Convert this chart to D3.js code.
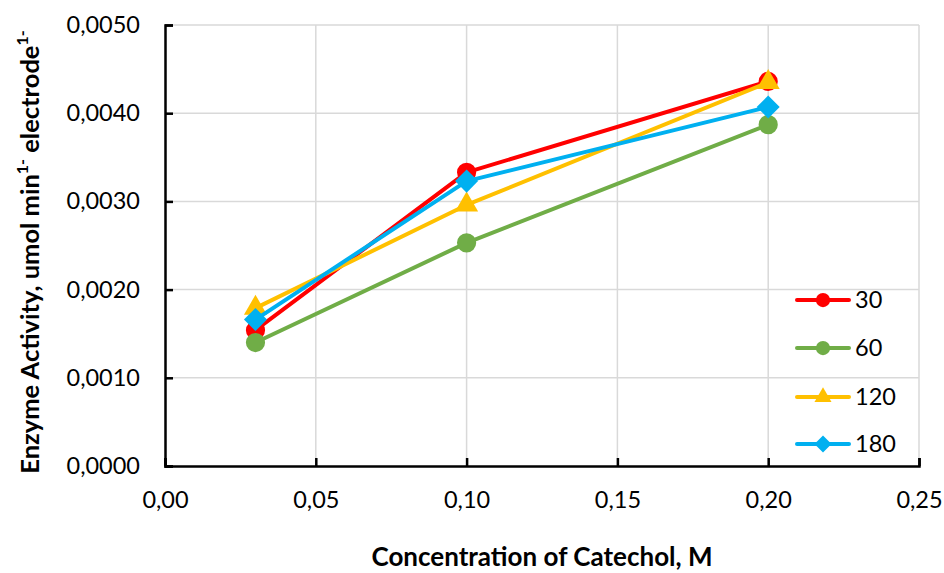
<!DOCTYPE html>
<html><head><meta charset="utf-8">
<script src="https://cdn.jsdelivr.net/npm/d3@7"></script>
<style>body{margin:0;background:#fff}svg{display:block}text{font-family:Lato,"Open Sans",sans-serif}</style>
</head><body>
<script>
const concentrations = [0.03, 0.10, 0.20];
const seriesNames = ["30", "60", "120", "180"];
const values30 = [0.00154, 0.00333, 0.00436];
const values60 = [0.00140, 0.00253, 0.00387];
const values120 = [0.00179, 0.00296, 0.00435];
const values180 = [0.00166, 0.00323, 0.00407];
const seriesColors = ["#FF0000", "#70AD47", "#FFC000", "#00B0F0"];
const seriesSymbols = ["circle", "circle", "triangle", "diamond"];
const xTicks = [0, 0.05, 0.10, 0.15, 0.20, 0.25];
const yTicks = [0, 0.001, 0.002, 0.003, 0.004, 0.005];

const W = 944, H = 573;
const svg = d3.select("body").append("svg").attr("width", W).attr("height", H);
const x = d3.scaleLinear().domain([0, 0.25]).range([165, 919]);
const y = d3.scaleLinear().domain([0, 0.005]).range([466, 25]);
const fmtX = v => d3.format(".2f")(v).replace(".", ",");
const fmtY = v => d3.format(".4f")(v).replace(".", ",");

// gridlines
svg.append("g").selectAll("line.v").data(xTicks.slice(1)).join("line")
  .attr("x1", d => x(d)).attr("x2", d => x(d)).attr("y1", y(0)).attr("y2", y(0.005))
  .attr("stroke", "#d9d9d9").attr("stroke-width", 1.5);
svg.append("g").selectAll("line.h").data(yTicks.slice(1)).join("line")
  .attr("x1", x(0)).attr("x2", x(0.25)).attr("y1", d => y(d)).attr("y2", d => y(d))
  .attr("stroke", "#d9d9d9").attr("stroke-width", 1.5);

// axes
const xAxis = svg.append("g").attr("transform", `translate(0,${y(0)})`)
  .call(d3.axisBottom(x).tickValues(xTicks).tickFormat(fmtX).tickSizeInner(-8).tickSizeOuter(-8).tickPadding(25));
const yAxis = svg.append("g").attr("transform", `translate(${x(0)},0)`)
  .call(d3.axisLeft(y).tickValues(yTicks).tickFormat(fmtY).tickSizeInner(-8).tickSizeOuter(-8).tickPadding(25));
[xAxis, yAxis].forEach(a => {
  a.select(".domain").attr("stroke", "#000").attr("stroke-width", 2.5);
  a.selectAll(".tick line").attr("stroke", "#000").attr("stroke-width", 2.5);
  a.selectAll(".tick text").attr("font-size", 23.5).attr("fill", "#000").attr("font-family", "Lato");
});

// custom square diamond symbol
const squareDiamond = {
  draw(context, size) {
    const h = Math.sqrt(size * 2) / 2;
    context.moveTo(0, -h); context.lineTo(h, 0); context.lineTo(0, h); context.lineTo(-h, 0); context.closePath();
  }
};

// series
const allValues = [values30, values60, values120, values180];
const symType = { circle: d3.symbolCircle, triangle: d3.symbolTriangle, diamond: squareDiamond };
const symSize = { circle: 290, triangle: 230, diamond: 265 };
const line = d3.line().x(d => x(d[0])).y(d => y(d[1]));
allValues.forEach((vals, i) => {
  const pts = concentrations.map((c, j) => [c, vals[j]]);
  const g = svg.append("g");
  g.append("path").attr("d", line(pts)).attr("fill", "none")
    .attr("stroke", seriesColors[i]).attr("stroke-width", 4).attr("stroke-linejoin", "round");
  g.selectAll("path.m").data(pts).join("path")
    .attr("transform", d => `translate(${x(d[0])},${y(d[1])})`)
    .attr("d", d3.symbol().type(symType[seriesSymbols[i]]).size(symSize[seriesSymbols[i]]))
    .attr("fill", seriesColors[i]);
});

// legend
const legY = [300, 348, 397, 444];
seriesNames.forEach((name, i) => {
  const g = svg.append("g").attr("transform", `translate(0,${legY[i]})`);
  g.append("line").attr("x1", 797).attr("x2", 849).attr("y1", 0).attr("y2", 0)
    .attr("stroke", seriesColors[i]).attr("stroke-width", 4).attr("stroke-linecap", "round");
  g.append("path").attr("transform", "translate(823,0)")
    .attr("d", d3.symbol().type(symType[seriesSymbols[i]]).size(symSize[seriesSymbols[i]] * 0.55))
    .attr("fill", seriesColors[i]);
  g.append("text").attr("x", 855).attr("y", 0).attr("dy", "0.36em")
    .attr("font-size", 23.5).attr("fill", "#000").text(name);
});

// axis titles
svg.append("text").attr("x", 542).attr("y", 566).attr("text-anchor", "middle")
  .attr("font-size", 26).attr("font-weight", "bold").text("Concentration of Catechol, M");
const yt = svg.append("text").attr("transform", "translate(30,252) rotate(-90)").attr("dy", "0.35em")
  .attr("text-anchor", "middle").attr("font-size", 25.5).attr("font-weight", "bold");
yt.append("tspan").text("Enzyme Activity,  umol min");
yt.append("tspan").attr("font-size", 16).attr("dy", "-0.7em").text("1-");
yt.append("tspan").attr("dy", "0.45em").text(" electrode");
yt.append("tspan").attr("font-size", 16).attr("dy", "-0.7em").text("1-");
</script>
</body></html>
